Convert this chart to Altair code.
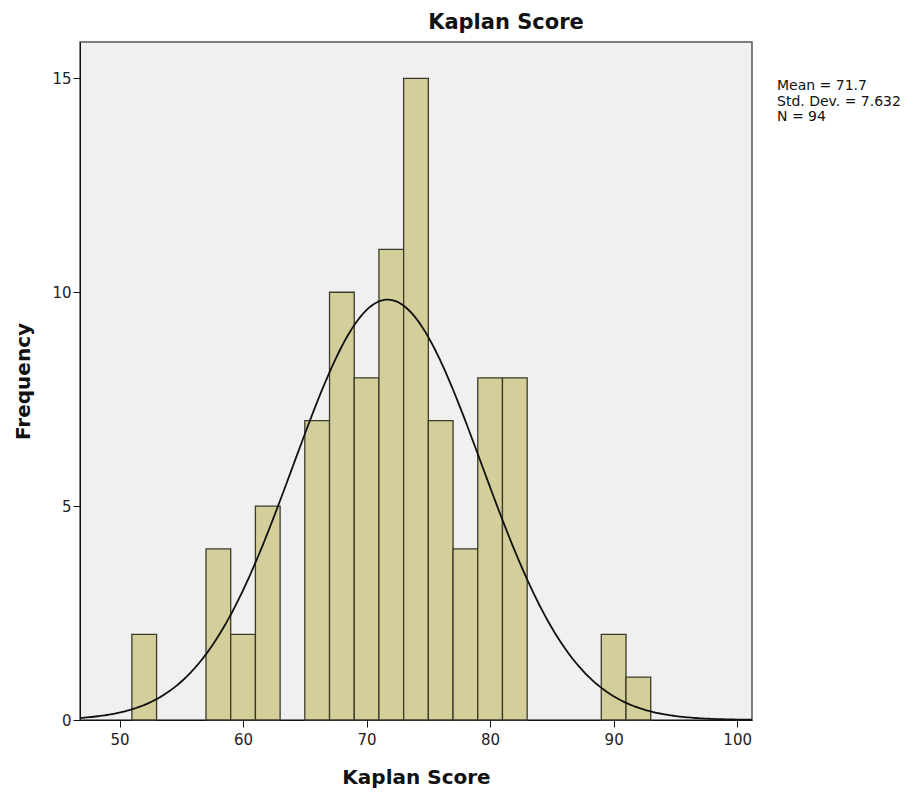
import altair as alt
import pandas as pd
import numpy as np

# Histogram bins (lower edge, upper edge, frequency)
bin_start = [51, 57, 59, 61, 65, 67, 69, 71, 73, 75, 77, 79, 81, 89, 91]
bin_end = [53, 59, 61, 63, 67, 69, 71, 73, 75, 77, 79, 81, 83, 91, 93]
freq = [2, 4, 2, 5, 7, 10, 8, 11, 15, 7, 4, 8, 8, 2, 1]

x_ticks = [50, 60, 70, 80, 90, 100]
y_ticks = [0, 5, 10, 15]

mean_val = 71.7
sd_val = 7.632
n_val = 94
bin_width = 2

stats_lines = ["Mean = 71.7", "Std. Dev. = 7.632", "N = 94"]

FONT = "DejaVu Sans"

bars_df = pd.DataFrame({"x0": bin_start, "x1": bin_end, "count": freq})

xs = np.linspace(46.8, 101.2, 300)
ys = n_val * bin_width / (sd_val * np.sqrt(2 * np.pi)) * np.exp(-0.5 * ((xs - mean_val) / sd_val) ** 2)
curve_df = pd.DataFrame({"x": xs, "y": ys})

xscale = alt.Scale(domain=[46.8, 101.2], nice=False, zero=False)
yscale = alt.Scale(domain=[0, 15.85], nice=False)

xaxis = alt.Axis(values=x_ticks, title="Kaplan Score", grid=False, tickSize=7,
                 labelFontSize=15, labelColor="#222", labelPadding=5,
                 titleFontSize=20, titleFontWeight="bold", titlePadding=20,
                 titleColor="#111", domainColor="#111", tickColor="#111",
                 labelFont=FONT, titleFont=FONT)
yaxis = alt.Axis(values=y_ticks, title="Frequency", grid=False, tickSize=7,
                 labelFontSize=15, labelColor="#222", labelPadding=2,
                 titleFontSize=20, titleFontWeight="bold", titlePadding=18,
                 titleColor="#111", domainColor="#111", tickColor="#111",
                 labelFont=FONT, titleFont=FONT)

bars = alt.Chart(bars_df).mark_bar(fill="#D4CF9A", stroke="#3C3A28", strokeWidth=1.3).encode(
    x=alt.X("x0:Q", scale=xscale, axis=xaxis),
    x2="x1:Q",
    y=alt.Y("count:Q", scale=yscale, axis=yaxis),
    y2=alt.datum(0),
)

curve = alt.Chart(curve_df).mark_line(color="#111", strokeWidth=1.8, clip=True).encode(
    x=alt.X("x:Q", scale=xscale),
    y=alt.Y("y:Q", scale=yscale),
)

stats_df = pd.DataFrame({"t": ["\n".join(stats_lines)]})
stats = alt.Chart(stats_df).mark_text(align="left", baseline="top", fontSize=14, lineHeight=15.5,
                                      lineBreak="\n", font=FONT, color="#111").encode(
    x=alt.value(697),
    y=alt.value(37),
    text="t:N",
)

title = alt.Chart(pd.DataFrame({"t": ["Kaplan Score"]})).mark_text(
    align="center", baseline="alphabetic", fontSize=21, fontWeight="bold",
    font=FONT, color="#111").encode(
    x=alt.value(426), y=alt.value(-13), text="t:N")

chart = alt.layer(bars, curve, stats, title).properties(
    width=672, height=678,
    autosize=alt.AutoSizeParams(type="none"),
    padding={"left": 72, "top": 34, "right": 157, "bottom": 68},
    background="white",
).configure_view(fill="#F0F0F0", stroke="#555", strokeWidth=1.5)

chart.save("out.html", embed_options={"renderer": "svg", "actions": False})
